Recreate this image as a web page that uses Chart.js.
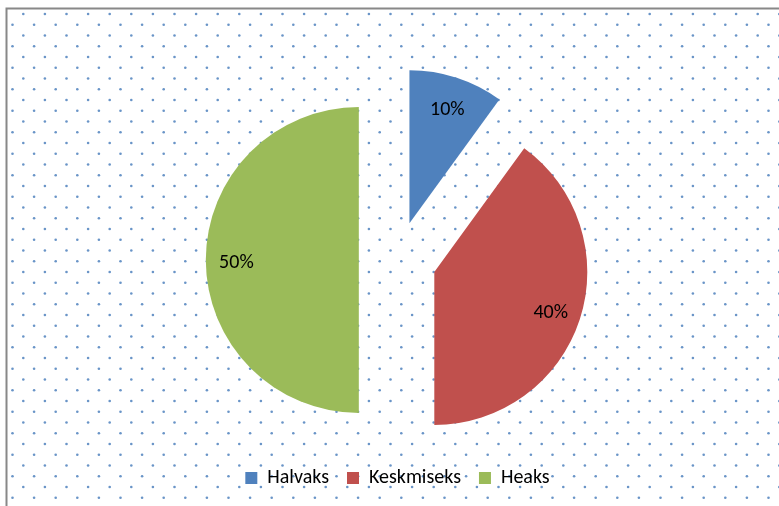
<!DOCTYPE html>
<html>
<head>
<meta charset="utf-8">
<script src="https://cdn.jsdelivr.net/npm/chart.js@4/dist/chart.umd.min.js"></script>
<style>
  body { margin: 0; background: #fff; }
  #wrap { width: 779px; height: 506px; }
</style>
</head>
<body>
<div id="wrap"><canvas id="pieChart" width="779" height="506"></canvas></div>
<script>
const labels = ["Halvaks", "Keskmiseks", "Heaks"];
const values = [10, 40, 50];
const colors = ["#4F81BD", "#C0504D", "#9BBB59"];

const radius = 153;      // pie radius in px
const explode = 38.7;    // how far every slice is pulled out
const fontFamily = "Calibri, Carlito, Lato, sans-serif";

// dotted background + the grey frame on top/left
const backgroundPlugin = {
  id: "dotBackground",
  beforeDraw(chart) {
    const c = chart.ctx;
    const w = chart.width, h = chart.height;
    c.save();
    c.fillStyle = "#fff";
    c.fillRect(0, 0, w, h);
    c.fillStyle = "rgba(79,129,189,0.85)";
    for (let j = 0; ; j++) {
      const y = 14 + j * 10.75;
      if (y > h + 2) break;
      const startX = (j % 2 === 0) ? 23.3 : 12.5;
      for (let x = startX; x < w + 2; x += 21.6) {
        c.beginPath();
        c.arc(x, y, 1.3, 0, Math.PI * 2);
        c.fill();
      }
    }
    c.strokeStyle = "#888";
    c.lineWidth = 2;
    c.beginPath();
    c.moveTo(6.5, h);
    c.lineTo(6.5, 8.5);
    c.lineTo(w, 8.5);
    c.stroke();
    c.restore();
  }
};

// pull every slice out the same distance along its middle angle
// (done here instead of the offset option, which also shrinks the angles)
const explodePlugin = {
  id: "explodeSlices",
  beforeDatasetsDraw(chart) {
    const area = chart.chartArea;
    const cx = (area.left + area.right) / 2;
    const cy = (area.top + area.bottom) / 2;
    chart.getDatasetMeta(0).data.forEach(arc => {
      const mid = (arc.startAngle + arc.endAngle) / 2;
      arc.x = cx + Math.cos(mid) * explode;
      arc.y = cy + Math.sin(mid) * explode;
    });
  }
};

// percent labels inside the slices
const percentLabels = {
  id: "percentLabels",
  afterDatasetsDraw(chart) {
    const c = chart.ctx;
    const meta = chart.getDatasetMeta(0);
    const total = values.reduce((a, b) => a + b, 0);
    c.save();
    c.fillStyle = "#000";
    c.font = "20px " + fontFamily;
    c.textAlign = "center";
    c.textBaseline = "middle";
    meta.data.forEach((arc, i) => {
      const mid = (arc.startAngle + arc.endAngle) / 2;
      const dist = radius * 0.8;
      const x = arc.x + Math.cos(mid) * dist;
      const y = arc.y + Math.sin(mid) * dist + 3;
      c.fillText(Math.round(values[i] / total * 100) + "%", x, y);
    });
    c.restore();
  }
};

const ctx = document.getElementById("pieChart").getContext("2d");
const pieChart = new Chart(ctx, {
  type: "pie",
  data: {
    labels: labels,
    datasets: [{
      data: values,
      backgroundColor: colors,
      borderWidth: 0,
      clip: false
    }]
  },
  options: {
    responsive: false,
    animation: false,
    radius: radius,
    layout: {
      padding: { left: 16, right: 0, top: 70, bottom: 8 }
    },
    plugins: {
      tooltip: { enabled: false },
      legend: {
        position: "bottom",
        labels: {
          color: "#000",
          boxWidth: 12,
          boxHeight: 12,
          padding: 18,
          font: { family: fontFamily, size: 20 }
        }
      }
    }
  },
  plugins: [backgroundPlugin, explodePlugin, percentLabels]
});
</script>
</body>
</html>
